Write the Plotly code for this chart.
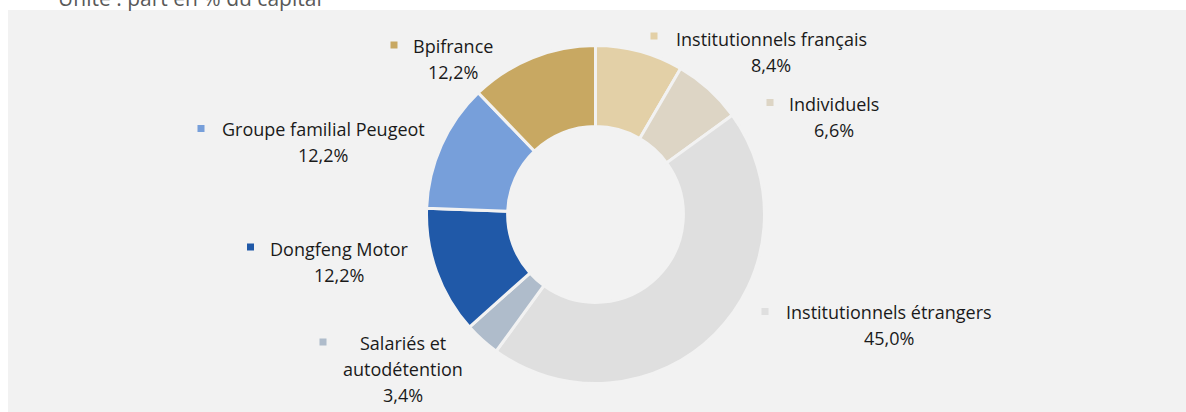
import plotly.graph_objects as go

categories = ["Institutionnels français", "Individuels", "Institutionnels étrangers",
              "Salariés et autodétention", "Dongfeng Motor", "Groupe familial Peugeot", "Bpifrance"]
values = [8.4, 6.6, 45.0, 3.4, 12.2, 12.2, 12.2]
colors = ["#e3d0a7", "#ddd5c5", "#dfdfdf", "#afbccb", "#2059a8", "#779fda", "#c8a862"]
label_lines = [["Institutionnels français"], ["Individuels"], ["Institutionnels étrangers"],
               ["Salariés et", "autodétention"], ["Dongfeng Motor"], ["Groupe familial Peugeot"], ["Bpifrance"]]
# label block centre x and first-line y (px from top), square marker centre
label_pos = [(771, 38.5), (834, 104), (889, 312), (402.5, 343), (339.5, 249), (323, 129), (453, 46)]
square_pos = [(654, 36), (770, 102.5), (765, 311.5), (323, 342), (250.5, 247), (201, 128.5), (394, 45)]

W, H = 1186, 412
BG = "#f2f2f2"
FONT = "Open Sans"
FS = 18
LH = 26.2

cx, cy, R = 595.5, 214.5, 169

fig = go.Figure()
fig.add_trace(go.Pie(
    labels=categories, values=values, sort=False, direction="clockwise", rotation=0,
    hole=0.52, textinfo="none", hoverinfo="label+percent",
    marker=dict(colors=colors, line=dict(color=BG, width=3)),
    domain=dict(x=[(cx - R) / W, (cx + R) / W], y=[(H - cy - R) / H, (H - cy + R) / H]),
    showlegend=False,
))

def px(x):
    return x / W

def py(y):
    return 1 - y / H

shapes = [dict(type="rect", xref="paper", yref="paper", x0=px(8), x1=1.0, y0=0, y1=py(10),
               fillcolor=BG, line=dict(width=0), layer="below")]
annotations = []
for lines, val, col, (lx, ly), (sx, sy) in zip(label_lines, values, colors, label_pos, square_pos):
    allines = lines + [f"{val:.1f}".replace(".", ",") + "%"]
    for i, t in enumerate(allines):
        annotations.append(dict(x=px(lx), y=py(ly + i * LH), xref="paper", yref="paper",
                                text=t, showarrow=False, xanchor="center", yanchor="middle",
                                font=dict(family=FONT, size=FS, color="#1a1a1a")))
    shapes.append(dict(type="rect", xref="paper", yref="paper",
                       x0=px(sx - 3.5), x1=px(sx + 3.5), y0=py(sy + 3.5), y1=py(sy - 3.5),
                       fillcolor=col, line=dict(width=0)))

annotations.append(dict(x=px(56), y=py(-1.5), xref="paper", yref="paper", text="Unité : part en % du capital",
                        showarrow=False, xanchor="left", yanchor="middle",
                        font=dict(family=FONT, size=21, color="#595959")))

fig.update_layout(
    width=W, height=H, margin=dict(l=0, r=0, t=0, b=0),
    paper_bgcolor="white", plot_bgcolor="white",
    shapes=shapes, annotations=annotations,
)
fig.write_html("out.html", config={"displayModeBar": False},
               post_script="document.body.style.margin='0px';")
